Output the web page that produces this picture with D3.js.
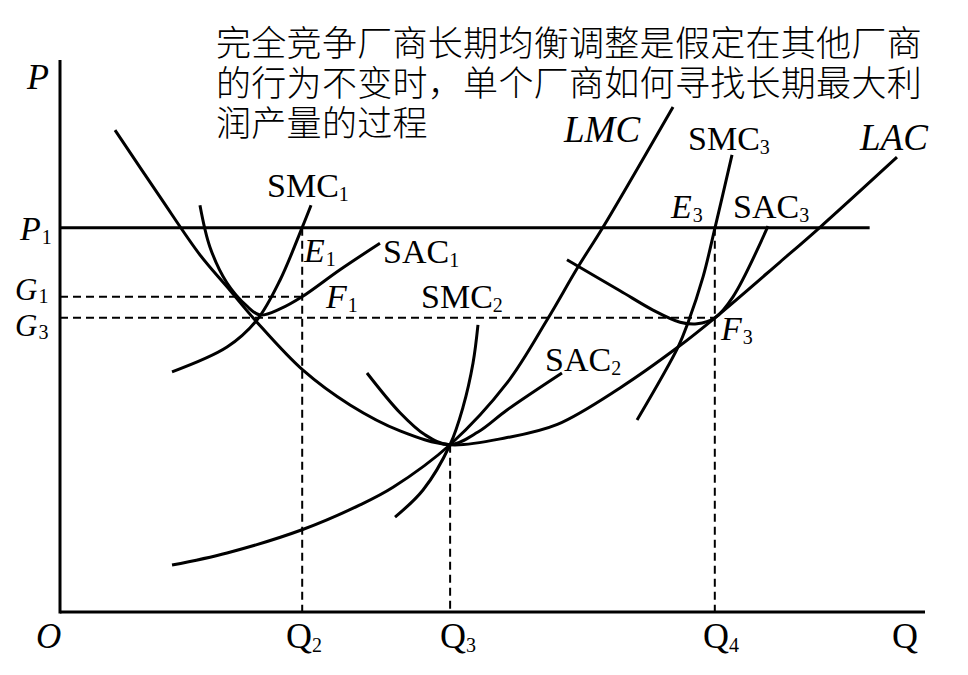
<!DOCTYPE html>
<html>
<head>
<meta charset="utf-8">
<script src="https://cdn.jsdelivr.net/npm/d3@7/dist/d3.min.js"></script>
<style>
  html, body { margin: 0; padding: 0; background: #fff; }
  svg { display: block; }
  .serif { font-family: "Liberation Serif", "DejaVu Serif", serif; fill: #000; }
  .cjk { font-family: "Liberation Serif", "Noto Sans CJK SC", sans-serif; fill: #000; font-weight: 300; }
</style>
</head>
<body>
<svg id="chart" width="968" height="675"></svg>
<script>
// ---- Data (economic units: Q horizontal, P vertical) ----
const titleLines = [
  "完全竞争厂商长期均衡调整是假定在其他厂商",
  "的行为不变时，单个厂商如何寻找长期最大利",
  "润产量的过程"
];

const Q2 = 28.0, Q3 = 45.1, Q4 = 75.7;
const P1 = 69.6, G1 = 57.1, G3 = 53.3, LACmin = 30.3;
const P1lineEnd = 93.6;

const LAC = [[6.36,87.3],[11.56,75.2],[16.18,64.7],[19.31,58.9],[22.77,52.5],[28.09,43.8],[33.53,37.5],[39.31,32.8],[45.09,30.3],[51.68,31.6],[57.5,34.0],[64.74,40.6],[71.45,48.0],[75.72,53.3],[83.24,63.4],[87.86,69.7],[96.76,82.4]];
const LMC = [[12.95,8.5],[19.31,10.7],[27.98,14.9],[34.68,19.4],[38.5,22.6],[45.09,30.3],[51.68,41.5],[56.3,52.9],[59.88,62.5],[62.77,69.7],[70.87,91.5]];
const SMC1 = [[12.95,43.5],[19.31,48.0],[22.77,52.9],[25.43,60.1],[27.98,69.6],[29.02,73.7]];
const SAC1 = [[16.18,73.7],[17.34,66.1],[19.31,59.6],[21.62,55.4],[23.12,53.8],[25.43,54.9],[27.98,57.1],[32.37,62.0],[36.99,66.8]];
const SMC2 = [[38.73,17.2],[41.97,22.1],[45.09,30.3],[46.59,37.1],[47.75,45.1],[48.32,52.0]];
const SAC2 = [[35.49,43.3],[39.31,36.1],[42.2,32.1],[45.09,30.3],[48.32,32.6],[51.68,36.6],[58.03,43.3]];
const SMC3 = [[66.71,34.8],[71.45,48.0],[72.6,52.4],[74.34,60.7],[75.72,69.6],[77.69,82.8]];
const SAC3 = [[58.61,63.8],[64.74,58.2],[68.55,54.7],[71.68,52.5],[73.64,52.2],[75.72,53.3],[77.8,57.1],[81.85,69.9]];

// ---- Layout ----
const svg = d3.select("#chart");
const x = d3.scaleLinear().domain([0, 100]).range([60, 925]);
const y = d3.scaleLinear().domain([0, 100]).range([612, 60]);

const line = d3.line().x(d => x(d[0])).y(d => y(d[1])).curve(d3.curveCatmullRom.alpha(0.5));

// Title (one text block with one tspan per line)
const title = svg.append("text").attr("class", "cjk").attr("font-size", 35).attr("letter-spacing", 0.3);
title.selectAll("tspan").data(titleLines).join("tspan")
  .attr("x", 216)
  .attr("y", (d, i) => 56 + i * 40)
  .text(d => d);

// Dashed guide lines
const dashed = svg.append("g")
  .attr("stroke", "#000").attr("stroke-width", 2).attr("stroke-dasharray", "8,5").attr("fill", "none");
dashed.append("line").attr("x1", x(0)).attr("x2", x(Q2)).attr("y1", y(G1)).attr("y2", y(G1));
dashed.append("line").attr("x1", x(0)).attr("x2", x(Q4)).attr("y1", y(G3)).attr("y2", y(G3));
dashed.append("line").attr("x1", x(Q2)).attr("x2", x(Q2)).attr("y1", y(P1)).attr("y2", y(0));
dashed.append("line").attr("x1", x(Q3)).attr("x2", x(Q3)).attr("y1", y(LACmin)).attr("y2", y(0));
dashed.append("line").attr("x1", x(Q4)).attr("x2", x(Q4)).attr("y1", y(P1)).attr("y2", y(0));

// Axes
const axes = svg.append("g").attr("stroke", "#000").attr("stroke-width", 3).attr("fill", "none");
axes.append("line").attr("x1", x(0)).attr("x2", x(0)).attr("y1", y(0) + 1.5).attr("y2", y(100));
axes.append("line").attr("x1", x(0)).attr("x2", x(100)).attr("y1", y(0)).attr("y2", y(0));

// Price line P1
svg.append("line").attr("stroke", "#000").attr("stroke-width", 3)
  .attr("x1", x(0)).attr("x2", x(P1lineEnd)).attr("y1", y(P1)).attr("y2", y(P1));

// Curves
const curves = [LAC, LMC, SMC1, SAC1, SMC2, SAC2, SMC3, SAC3];
svg.append("g").selectAll("path").data(curves).join("path")
  .attr("d", d => line(d))
  .attr("fill", "none").attr("stroke", "#000").attr("stroke-width", 3)
  .attr("stroke-linecap", "butt").attr("stroke-linejoin", "round");

// Labels: [main, sub, italic, x, baseline, size, subDy]
const labels = [
  ["P", "", true, 27, 89, 36, 0],
  ["P", "1", true, 20, 240, 34, 4],
  ["G", "1", true, 15, 300, 31, 3],
  ["G", "3", true, 15, 336, 31, 3],
  ["O", "", true, 36, 648, 35, 0],
  ["Q", "2", false, 286, 648, 36, 4],
  ["Q", "3", false, 440, 648, 36, 4],
  ["Q", "4", false, 703, 648, 36, 4],
  ["Q", "", false, 892, 648, 36, 0],
  ["SMC", "1", false, 267, 197, 34, 4],
  ["E", "1", true, 304, 262, 34, 4],
  ["F", "1", true, 326, 308, 34, 4],
  ["SAC", "1", false, 383, 263, 34, 4],
  ["SMC", "2", false, 421, 308, 34, 4],
  ["SAC", "2", false, 545, 371, 34, 4],
  ["LMC", "", true, 564, 142, 37, 0],
  ["SMC", "3", false, 688, 150, 34, 4],
  ["LAC", "", true, 860, 150, 37, 0],
  ["E", "3", true, 671, 218, 34, 4],
  ["SAC", "3", false, 733, 218, 34, 4],
  ["F", "3", true, 721, 340, 34, 4]
];
const lg = svg.append("g");
labels.forEach(([m, s, it, lx, ly, fs, sdy]) => {
  const t = lg.append("text").attr("class", "serif").attr("x", lx).attr("y", ly).attr("font-size", fs);
  t.append("tspan").attr("font-style", it ? "italic" : "normal").text(m);
  if (s) t.append("tspan").attr("font-size", 20).attr("dx", it ? 1 : 0).attr("dy", sdy).text(s);
});
</script>
</body>
</html>
